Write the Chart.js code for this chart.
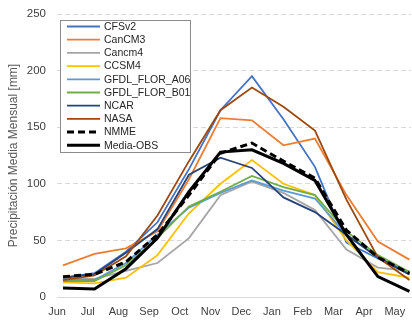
<!DOCTYPE html>
<html>
<head>
<meta charset="utf-8">
<script src="https://cdn.jsdelivr.net/npm/chart.js@4"></script>
<style>
  body { margin: 0; background: #fff; }
</style>
</head>
<body>
<canvas id="myChart01" width="412" height="323"></canvas>
<script>
// Meses (Jun a May)
const months = ["Jun", "Jul", "Aug", "Sep", "Oct", "Nov", "Dec", "Jan", "Feb", "Mar", "Apr", "May"];
const yTicks = [0, 50, 100, 150, 200, 250];

// Precipitación media mensual [mm] por modelo
const cfsv2   = [17, 21, 40, 66, 113, 165, 195, 157, 115, 48, 34, 20];
const cancm3  = [28, 38, 43, 58, 104, 158, 156, 134, 140, 90, 49, 33];
const cancm4  = [16, 16, 23, 30, 52, 90, 102, 92, 77, 42, 26, 23];
const ccsm4   = [13, 12, 17, 37, 74, 100, 121, 100, 90, 50, 22, 17];
const floA06  = [15, 15, 30, 55, 79, 92, 103, 94, 87, 55, 35, 21];
const floB01  = [14, 14, 28, 52, 80, 93, 107, 97, 90, 58, 37, 22];
const ncar    = [17, 20, 39, 60, 108, 123, 114, 88, 75, 55, 35, 20];
const nasa    = [15, 19, 36, 72, 120, 165, 185, 168, 147, 86, 35, 15];
const nmme    = [18, 20, 31, 55, 90, 127, 136, 120, 105, 59, 35, 21];
const mediaObs = [8, 7, 25, 52, 93, 128, 130, 118, 103, 55, 18, 5];

const seriesNames = ["CFSv2", "CanCM3", "Cancm4", "CCSM4", "GFDL_FLOR_A06", "GFDL_FLOR_B01", "NCAR", "NASA", "NMME", "Media-OBS"];
const seriesData = [cfsv2, cancm3, cancm4, ccsm4, floA06, floB01, ncar, nasa, nmme, mediaObs];
const seriesColors = ["#4472C4", "#ED7D31", "#A5A5A5", "#FFC000", "#5B9BD5", "#70AD47", "#264478", "#9E480E", "#000000", "#000000"];

const datasets = seriesNames.map((name, i) => ({
  label: name,
  data: seriesData[i].map((v, j) => ({ x: j, y: v })),
  borderColor: seriesColors[i],
  backgroundColor: seriesColors[i],
  borderWidth: i >= 8 ? 3 : 1.8,
  borderDash: name == "NMME" ? [7, 4] : [],
  pointRadius: 0,
  tension: 0,
  fill: false,
  order: seriesNames.length - i
}));

// Leyenda dibujada dentro del área del gráfico
const boxLegend = {
  id: "boxLegend",
  afterDraw(chart) {
    const c = chart.ctx;
    c.save();
    c.fillStyle = "#fff";
    c.fillRect(60, 20, 130, 132);
    c.strokeStyle = "#8c8c8c";
    c.lineWidth = 1;
    c.strokeRect(60.5, 20.5, 130, 132);
    c.font = "10.5px 'Liberation Sans'";
    c.textBaseline = "middle";
    chart.data.datasets.forEach((ds, i) => {
      const y = 26.5 + i * 13.2;
      c.beginPath();
      c.strokeStyle = ds.borderColor;
      c.lineWidth = ds.borderWidth;
      c.setLineDash(ds.borderDash);
      c.moveTo(67, y);
      c.lineTo(100, y);
      c.stroke();
      c.setLineDash([]);
      c.fillStyle = "#262626";
      c.fillText(ds.label, 104, y + 0.5);
    });
    c.restore();
  }
};

const ctx = document.getElementById("myChart01");
new Chart(ctx, {
  type: "line",
  data: { datasets: datasets },
  options: {
    responsive: false,
    animation: false,
    layout: { padding: { top: 14, right: 1, left: 0, bottom: 0 } },
    plugins: { legend: { display: false }, tooltip: { enabled: false } },
    scales: {
      x: {
        type: "linear",
        min: -0.19,
        max: 11.05,
        afterBuildTicks: (scale) => {
          // etiquetas de mes algo desplazadas, como en la figura original
          scale.ticks = months.map((m, i) => ({ value: i * 0.975 - 0.19 }));
        },
        afterFit: (scale) => { scale.height = 26; },
        ticks: {
          callback: (v, i) => months[i],
          padding: 2,
          maxRotation: 0,
          autoSkip: false,
          color: "#404040",
          font: { family: "Liberation Sans", size: 11 }
        },
        grid: { drawOnChartArea: false, drawTicks: true, tickLength: 6, tickColor: "rgba(0,0,0,0)" },
        border: { display: true, color: "#d9d9d9", width: 1 }
      },
      y: {
        min: 0,
        max: 250,
        afterBuildTicks: (scale) => { scale.ticks = yTicks.map(v => ({ value: v })); },
        afterFit: (scale) => { scale.width = 57; },
        ticks: {
          padding: 3,
          color: "#404040",
          font: { family: "Liberation Sans", size: 11.5 }
        },
        grid: { color: "#d9d9d9", lineWidth: 1, drawTicks: true, tickLength: 8, tickColor: "rgba(0,0,0,0)" },
        border: { display: false, dash: [5, 3] },
        title: {
          display: true,
          text: "Precipitación Media Mensual [mm]",
          color: "#595959",
          font: { family: "Liberation Sans", size: 12 },
          padding: { top: 6, bottom: 0 }
        }
      }
    }
  },
  plugins: [boxLegend]
});
</script>
</body>
</html>
